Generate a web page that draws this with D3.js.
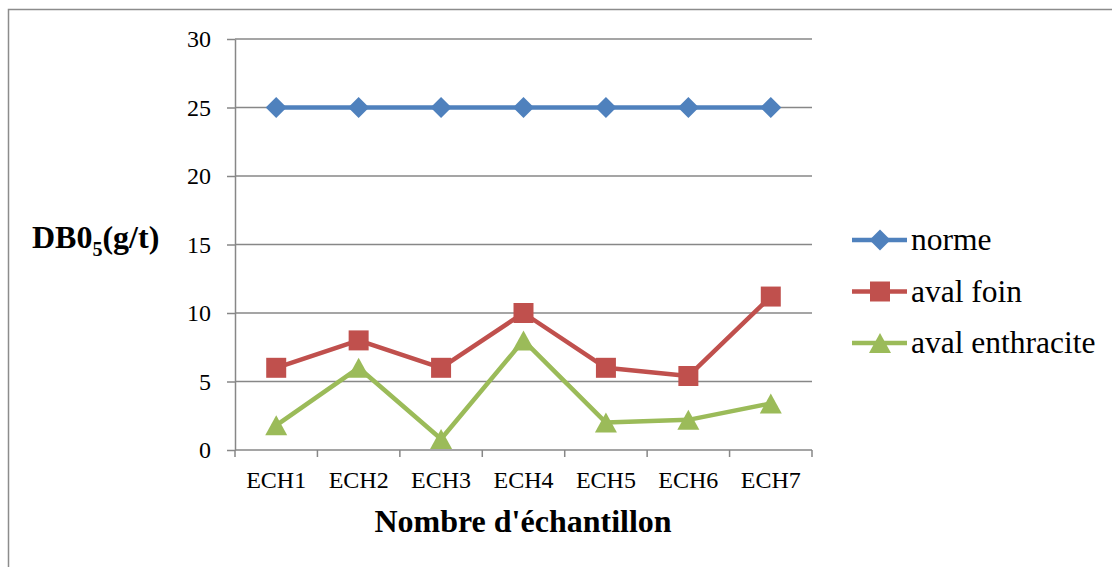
<!DOCTYPE html>
<html>
<head>
<meta charset="utf-8">
<script src="https://cdn.jsdelivr.net/npm/d3@7"></script>
<style>
  html, body { margin: 0; padding: 0; background: #fff; }
  svg { display: block; }
</style>
</head>
<body>
<svg id="chart" width="1112" height="567"></svg>
<script>
// Samples along the x axis
const categories = ["ECH1", "ECH2", "ECH3", "ECH4", "ECH5", "ECH6", "ECH7"];
// DBO5 values (g/t) per series
const norme = [25, 25, 25, 25, 25, 25, 25];
const avalFoin = [6, 8, 6, 10, 6, 5.4, 11.2];
const avalEnthracite = [1.8, 6, 0.8, 8, 2, 2.2, 3.4];
// Y axis ticks
const yTicks = [0, 5, 10, 15, 20, 25, 30];
const seriesNames = ["norme", "aval foin", "aval enthracite"];

// Marker shapes drawn around (0,0), ~20px across
const markerPaths = {
  diamond: "M0,-10.5L10.5,0L0,10.5L-10.5,0Z",
  square: "M-10,-10H10V10H-10Z",
  triangle: "M0,-10L11,10H-11Z"
};

const series = [
  { name: seriesNames[0], values: norme, color: "#4F81BD", marker: markerPaths.diamond },
  { name: seriesNames[1], values: avalFoin, color: "#C0504D", marker: markerPaths.square },
  { name: seriesNames[2], values: avalEnthracite, color: "#9BBB59", marker: markerPaths.triangle }
];

const svg = d3.select("#chart");
const font = "'Liberation Serif', 'Times New Roman', serif";
const axisGray = "#878787";

// Outer frame (runs past the right and bottom edges)
svg.append("rect")
  .attr("x", 8.5).attr("y", 9.5)
  .attr("width", 1200).attr("height", 700)
  .attr("fill", "none").attr("stroke", "#8c8c8c").attr("stroke-width", 1.5);

const plot = { left: 235, right: 812, top: 39, bottom: 450 };

const x = d3.scaleBand().domain(categories).range([plot.left, plot.right]);
const y = d3.scaleLinear().domain([0, 30]).range([plot.bottom, plot.top]);
const cx = c => x(c) + x.bandwidth() / 2;

// Horizontal gridlines
svg.append("g")
  .selectAll("line")
  .data(yTicks.filter(t => t > 0))
  .join("line")
  .attr("x1", plot.left).attr("x2", plot.right)
  .attr("y1", d => y(d)).attr("y2", d => y(d))
  .attr("stroke", axisGray).attr("stroke-width", 1.5);

// Y axis
const yAxis = svg.append("g")
  .attr("transform", `translate(${plot.left},0)`)
  .call(d3.axisLeft(y).tickValues(yTicks).tickSize(8).tickPadding(16).tickSizeOuter(0));
yAxis.select(".domain").attr("stroke", axisGray).attr("stroke-width", 1.5);
yAxis.selectAll(".tick line").attr("stroke", axisGray).attr("stroke-width", 1.5);
yAxis.selectAll(".tick text")
  .attr("font-family", font).attr("font-size", 24).attr("fill", "#000")
  .attr("dy", "0.33em");

// X axis with ticks at category boundaries
const xAxisG = svg.append("g").attr("transform", `translate(0,${plot.bottom})`);
xAxisG.append("line")
  .attr("x1", plot.left).attr("x2", plot.right)
  .attr("stroke", axisGray).attr("stroke-width", 1.5);
const boundaries = categories.map(c => x(c)).concat([plot.right]);
xAxisG.selectAll("line.tk")
  .data(boundaries)
  .join("line").attr("class", "tk")
  .attr("x1", d => d).attr("x2", d => d)
  .attr("y1", 0).attr("y2", 7)
  .attr("stroke", axisGray).attr("stroke-width", 1.5);
xAxisG.selectAll("text")
  .data(categories)
  .join("text")
  .attr("x", d => cx(d))
  .attr("y", 38)
  .attr("text-anchor", "middle")
  .attr("font-family", font).attr("font-size", 24)
  .text(d => d);

// Axis titles
svg.append("text")
  .attr("x", 523).attr("y", 532)
  .attr("text-anchor", "middle")
  .attr("font-family", font).attr("font-size", 32).attr("font-weight", "bold")
  .text("Nombre d'échantillon");

const yt = svg.append("text")
  .attr("x", 32).attr("y", 248)
  .attr("font-family", font).attr("font-size", 32).attr("font-weight", "bold");
yt.append("tspan").text("DB0");
yt.append("tspan").attr("font-size", 20).attr("dy", 8).text("5");
yt.append("tspan").attr("dy", -8).text("(g/t)");

// Series lines and markers
const line = d3.line()
  .x((d, i) => cx(categories[i]))
  .y(d => y(d));

series.forEach(s => {
  svg.append("path")
    .datum(s.values)
    .attr("d", line)
    .attr("fill", "none")
    .attr("stroke", s.color)
    .attr("stroke-width", 4.5)
    .attr("stroke-linejoin", "round");
  svg.append("g")
    .selectAll("path")
    .data(s.values)
    .join("path")
    .attr("transform", (d, i) => `translate(${cx(categories[i])},${y(d)})`)
    .attr("d", s.marker)
    .attr("fill", s.color);
});

// Legend
const legend = svg.append("g");
series.forEach((s, i) => {
  const ly = 240 + i * 51.5;
  legend.append("line")
    .attr("x1", 852).attr("x2", 907)
    .attr("y1", ly).attr("y2", ly)
    .attr("stroke", s.color).attr("stroke-width", 4.5);
  legend.append("path")
    .attr("transform", `translate(880,${ly})`)
    .attr("d", s.marker)
    .attr("fill", s.color);
  legend.append("text")
    .attr("x", 911).attr("y", ly + 10)
    .attr("font-family", font).attr("font-size", 31.5)
    .text(s.name);
});
</script>
</body>
</html>
